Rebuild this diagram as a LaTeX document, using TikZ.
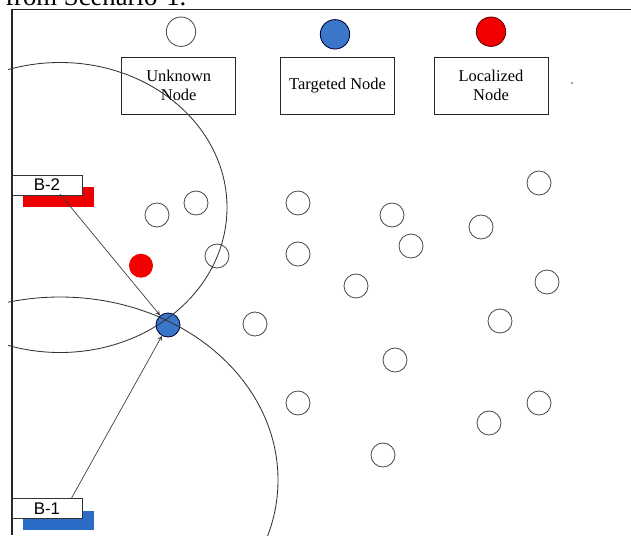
\documentclass[tikz,border=0pt]{standalone}
\usepackage{fontspec}
\setmainfont{Liberation Serif}
\newfontfamily\arialfont{Liberation Sans}

\definecolor{tgtblue}{RGB}{58,118,201}
\definecolor{locred}{RGB}{242,0,0}
\definecolor{barblue}{RGB}{42,108,200}
\definecolor{barred}{RGB}{236,0,0}

\tikzset{
  unknown/.style={circle,draw=black!70,line width=0.6pt,minimum size=0.6cm,inner sep=0pt},
  targeted/.style={circle,draw=black!80!blue,line width=0.6pt,fill=tgtblue,minimum size=0.6cm,inner sep=0pt},
  localized/.style={circle,fill=locred,minimum size=0.6cm,inner sep=0pt},
  legendbox/.style={rectangle,draw=black!85,line width=0.6pt,minimum width=2.85cm,minimum height=1.425cm,
    align=center,font=\fontsize{11.7}{13.5}\selectfont},
  beacon/.style={rectangle,draw=black!80,line width=0.6pt,fill=white,minimum width=1.75cm,minimum height=0.5cm,
    inner sep=0pt,font=\arialfont\fontsize{12}{12}\selectfont},
  rangeline/.style={draw=black!80,line width=0.6pt},
  beam/.style={->,>=stealth,draw=black!75,line width=0.5pt}
}

\begin{document}
\begin{tikzpicture}[x=0.025cm,y=-0.025cm]
    \useasboundingbox (0,0) rectangle (631,535);

    % caption cut off by the top of the page
    \node[anchor=base west,inner sep=0pt,font=\fontsize{19}{19}\selectfont] (caption) at (5,5) {from Scenario-1.};

    % frame
    \draw[line width=1.2pt,black!85] (12,535) -- (12,9.5) -- (631,9.5);

    % legend
    \node[unknown,minimum size=0.735cm] (lgunk) at (181,31.7) {};
    \node[targeted,minimum size=0.735cm] (lgtgt) at (335,34.3) {};
    \node[localized,draw=black!60!red,line width=0.6pt,minimum size=0.735cm] (lgloc) at (491,31.7) {};
    \node[legendbox] (unkbox) at (178.7,85.8) {Unknown\\Node};
    \node[legendbox] (tgtbox) at (337.5,85.8) {Targeted Node};
    \node[legendbox] (locbox) at (491,85.8) {Localized\\Node};
    \fill[black!60] (572,83) circle [radius=1];

    % beacons
    \fill[barred] (23,187) rectangle (94,207);
    \node[beacon] (b2) at (47,185) {B-2};
    \fill[barblue] (23,511) rectangle (94,530);
    \node[beacon] (b1) at (47,508.5) {B-1};
    \coordinate (b2out) at (60,194);
    \coordinate (b1out) at (71,499);

    % sensor field
    \foreach \x/\y [count=\i] in {157/215, 196/203, 217/256, 255/324, 298/203, 298/254,
        392/215, 411/246, 356/286, 481/227, 539/183, 547/282, 500/321, 395/360,
        298/403, 539/403, 489/423, 383/455}
        \node[unknown] (u\i) at (\x,\y) {};
    \node[localized] (loc) at (141,265.7) {};
    \node[targeted] (tgt) at (168,325) {};

    % ranges of the two beacons
    \begin{scope}
        \clip (8,0) rectangle (631,535);
        \draw[rangeline] (60,207.5) ellipse [x radius=167, y radius=145];
        \draw[rangeline] (60,480) ellipse [x radius=218, y radius=183];
    \end{scope}

    \draw[beam] (b2out) -- (tgt);
    \draw[beam] (b1out) -- (tgt);
\end{tikzpicture}
\end{document}
